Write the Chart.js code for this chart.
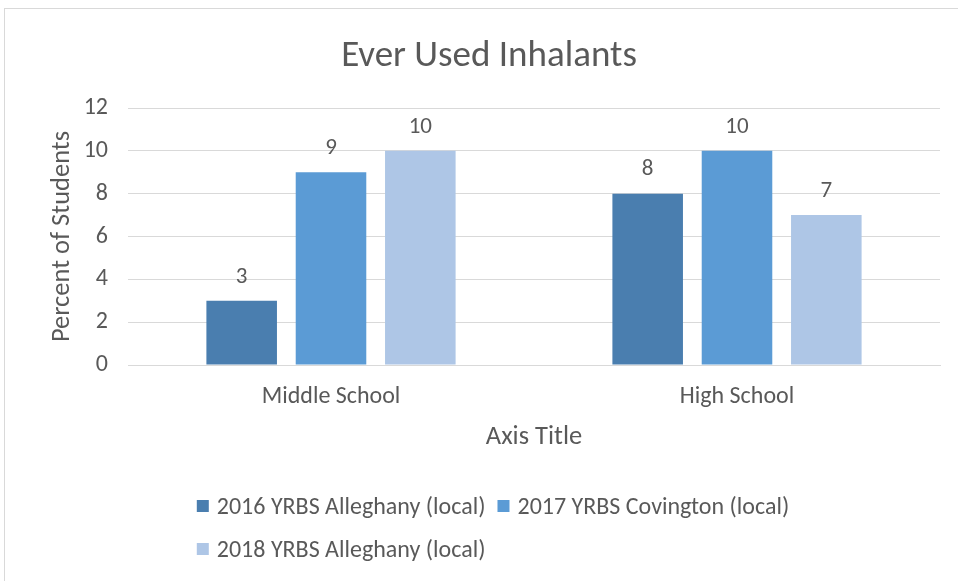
<!DOCTYPE html>
<html>
<head>
<meta charset="utf-8">
<script src="https://cdn.jsdelivr.net/npm/chart.js@4.4.1/dist/chart.umd.min.js"></script>
<style>
	html, body { margin: 0; padding: 0; background: #fff; }
	#wrap { position: relative; width: 958px; height: 581px; }
</style>
</head>
<body>
<div id="wrap"><canvas id="chart" width="958" height="581"></canvas></div>
<script>
var categories = ['Middle School', 'High School'];
var seriesNames = ['2016 YRBS Alleghany (local)', '2017 YRBS Covington (local)', '2018 YRBS Alleghany (local)'];
var values2016 = [3, 8];
var values2017 = [9, 10];
var values2018 = [10, 7];
var barColors = ['#4A7EAF', '#5B9BD5', '#AEC6E6'];

var FONT = "Carlito, Calibri, Lato, sans-serif";
var TEXT = '#595959';

// value labels above each bar
var barLabels = {
	id: 'barLabels',
	afterDatasetsDraw(chart){
		var ctx = chart.ctx;
		ctx.save();
		ctx.font = '23px ' + FONT;
		ctx.fillStyle = TEXT;
		ctx.textAlign = 'center';
		ctx.textBaseline = 'middle';
		chart.data.datasets.forEach((ds, i) => {
			chart.getDatasetMeta(i).data.forEach((bar, j) => {
				ctx.fillText(ds.data[j], bar.x, bar.y - 24);
			});
		});
		ctx.restore();
	}
};

// outer frame + excel style legend (rows left aligned inside a centered block)
var frameAndLegend = {
	id: 'frameAndLegend',
	beforeDraw(chart){
		var ctx = chart.ctx;
		ctx.save();
		ctx.strokeStyle = '#D9D9D9';
		ctx.lineWidth = 1;
		ctx.strokeRect(4.5, 8.5, chart.width + 20, chart.height + 20);
		ctx.restore();
	},
	afterDraw(chart){
		var ctx = chart.ctx;
		ctx.save();
		ctx.font = '24px ' + FONT;
		var box = 12, gap = 8, spacing = 12, maxW = 700;
		var rows = [[]], rowW = [0];
		chart.data.datasets.forEach((ds, i) => {
			var w = box + gap + ctx.measureText(ds.label).width;
			var r = rows.length - 1;
			var add = rows[r].length ? spacing + w : w;
			if(rowW[r] + add > maxW && rows[r].length){
				rows.push([]); rowW.push(0); r++; add = w;
			}
			rows[r].push({ds: ds, w: w});
			rowW[r] += add;
		});
		var blockW = Math.max.apply(null, rowW);
		var tb = chart.titleBlock;
		var cx = (tb.left + tb.right) / 2 + 4;
		var left = cx - blockW / 2;
		var y0 = 508, lineH = 43;
		ctx.textBaseline = 'middle';
		ctx.textAlign = 'left';
		rows.forEach((row, r) => {
			var x = left, y = y0 + r * lineH;
			row.forEach(it => {
				ctx.fillStyle = it.ds.backgroundColor;
				ctx.fillRect(x, y - 2 - box / 2, box, box);
				ctx.fillStyle = TEXT;
				ctx.fillText(it.ds.label, x + box + gap, y);
				x += it.w + spacing;
			});
		});
		ctx.restore();
	}
};

new Chart(document.getElementById('chart'), {
	type: 'bar',
	data: {
		labels: categories,
		datasets: [
			{label: seriesNames[0], data: values2016, backgroundColor: barColors[0]},
			{label: seriesNames[1], data: values2017, backgroundColor: barColors[1]},
			{label: seriesNames[2], data: values2018, backgroundColor: barColors[2]}
		]
	},
	options: {
		responsive: false,
		animation: false,
		categoryPercentage: 0.66,
		barPercentage: 0.79,
		layout: {padding: {left: 38, right: 18, top: 0, bottom: 0}},
		plugins: {
			legend: {display: false},
			tooltip: {enabled: false},
			title: {
				display: true,
				text: 'Ever Used Inhalants',
				color: TEXT,
				font: {family: FONT, size: 37, weight: 'normal', lineHeight: 1.2},
				padding: {top: 35, bottom: 28.6}
			}
		},
		scales: {
			x: {
				grid: {display: false, drawTicks: false},
				border: {display: true, color: '#D9D9D9', width: 1},
				ticks: {color: TEXT, font: {family: FONT, size: 24}, padding: 18},
				title: {
					display: true,
					text: 'Axis Title',
					color: TEXT,
					font: {family: FONT, size: 26.5, lineHeight: 1.2},
					padding: {top: 0, bottom: 128}
				},
				afterFit(scale){ scale.height = 216; }
			},
			y: {
				min: 0,
				max: 12,
				ticks: {stepSize: 2, color: TEXT, font: {family: FONT, size: 24}, padding: 20},
				grid: {color: '#D9D9D9', drawTicks: false},
				border: {display: false},
				title: {
					display: true,
					text: 'Percent of Students',
					color: TEXT,
					font: {family: FONT, size: 26.5, lineHeight: 1.2},
					padding: {top: 8, bottom: 0}
				},
				afterFit(scale){ scale.width = 90; }
			}
		}
	},
	plugins: [barLabels, frameAndLegend]
});
</script>
</body>
</html>
